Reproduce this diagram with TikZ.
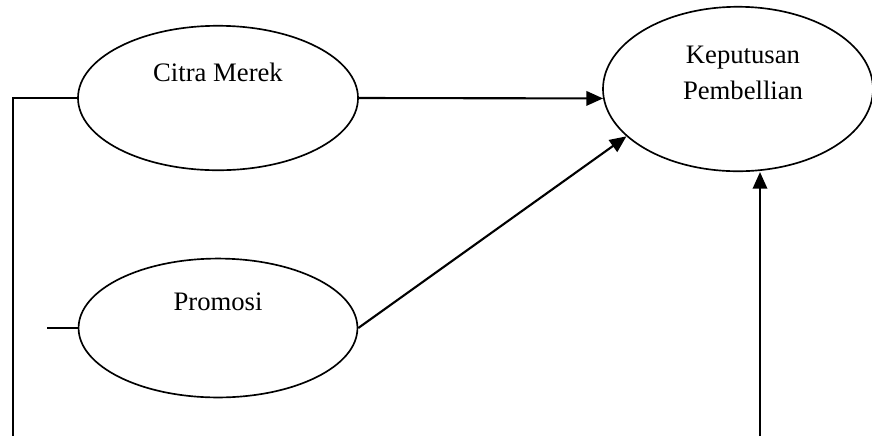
\documentclass[tikz,border=0pt]{standalone}
\usepackage{fontspec}
\setmainfont{Liberation Serif}
\usetikzlibrary{shapes.geometric,arrows.meta}

\tikzset{
  var/.style={draw, ellipse, line width=0.75pt},
  arr/.style={-{Triangle[length=7.5pt,width=6.5pt]}, line width=0.95pt},
  lbl/.style={font=\fontsize{12}{16.5}\selectfont, align=center}
}

\begin{document}
\begin{tikzpicture}[x=0.45pt,y=-0.45pt]
\useasboundingbox (0,0) rectangle (872,441);

\node[var, minimum width=126pt, minimum height=65pt] (citra) at (218,98) {};
\node[lbl] (citraL) at (218,72) {Citra Merek};

\node[var, minimum width=125.5pt, minimum height=62.5pt] (promosi) at (218,328) {};
\node[lbl] (promosiL) at (218,302) {Promosi};

\node[var, minimum width=121.5pt, minimum height=74pt] (kep) at (738,89) {};
\node[lbl] (kepL) at (743,73) {Keputusan\\Pembellian};

\coordinate (leftEnd) at (13,436);
\coordinate (promIn) at (47,328);
\coordinate (bottomIn) at (760,436);

\draw[line width=0.7pt] (citra.west) -| (leftEnd);
\draw[line width=0.7pt] (promIn) -- (promosi.west);

\draw[arr] (citra.east) -- (kep.184);
\draw[arr] (promosi.east) -- (kep.203);
\draw[arr] (bottomIn) -- (bottomIn |- kep.south);
\end{tikzpicture}
\end{document}
